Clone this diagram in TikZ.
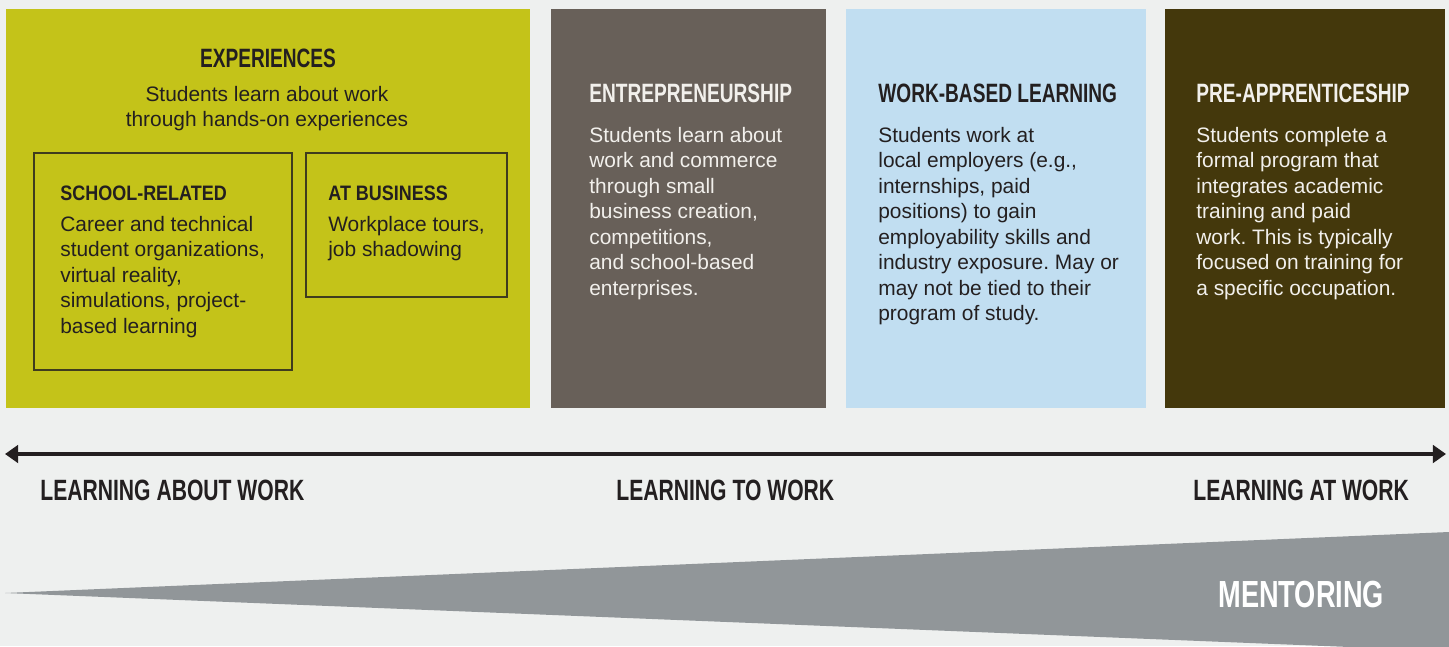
\documentclass[tikz,border=0pt]{standalone}
\usepackage{fontspec}
\setmainfont{Liberation Sans}
\newfontfamily\headfont[FakeStretch=0.72]{Liberation Sans}
\newfontfamily\subfont[FakeStretch=0.86]{Liberation Sans}
\usetikzlibrary{positioning, arrows.meta}
\definecolor{bgpaper}{HTML}{EEF0EF}
\definecolor{expolive}{HTML}{C4C319}
\definecolor{entbrown}{HTML}{686059}
\definecolor{wblblue}{HTML}{C1DEF1}
\definecolor{predark}{HTML}{44380C}
\definecolor{inkdark}{HTML}{231F20}
\definecolor{mentorgrey}{HTML}{919699}
\definecolor{lighttext}{HTML}{F2F0EC}
\definecolor{boxline}{HTML}{3F3C1E}
\frenchspacing

\begin{document}
\begin{tikzpicture}[x=0.02cm, y=-0.02cm,
  head/.style={inner sep=0, anchor=base west, font=\headfont\bfseries\fontsize{15.1}{18}\selectfont},
  subhead/.style={inner sep=0, anchor=base west, font=\subfont\bfseries\fontsize{11.9}{14.5}\selectfont},
  body/.style={inner sep=0, anchor=base west, align=left, font=\fontsize{11.9}{14.5}\selectfont},
  scale label/.style={inner sep=0, anchor=base west, text=inkdark, font=\headfont\bfseries\fontsize{16.7}{20}\selectfont}]
 \useasboundingbox (0, 0) rectangle (1449, 646);
 \fill[bgpaper] (0, 0) rectangle (1449, 646);
 % the four kinds of work-based experience
 \fill[expolive] (6, 9) rectangle (530, 408);
 \fill[entbrown] (551, 9) rectangle (826, 408);
 \fill[wblblue] (846, 9) rectangle (1146, 408);
 \fill[predark] (1165, 9) rectangle (1445, 408);
 \draw[boxline, line width=0.7pt] (34, 153) rectangle (292, 370);
 \draw[boxline, line width=0.7pt] (306, 153) rectangle (507, 297);
 % multi-line texts sit on the baseline of their last line
 \node[head, anchor=base, text=inkdark] (exphead) at (268, 67) {EXPERIENCES};
 \node[body, anchor=base, align=center, text=inkdark] (exptext) at (267, 126.5) {Students learn about work\\through hands-on experiences};
 \node[subhead, text=inkdark] (schoolhead) at (60, 200) {SCHOOL-RELATED};
 \node[body, text=inkdark] (schooltext) at (60, 333) {Career and technical\\student organizations,\\virtual reality,\\simulations, project-\\based learning};
 \node[subhead, text=inkdark] (bizhead) at (328, 200) {AT BUSINESS};
 \node[body, text=inkdark] (biztext) at (328, 256.5) {Workplace tours,\\job shadowing};
 \node[head, text=lighttext] (enthead) at (589, 102) {ENTREPRENEURSHIP};
 \node[body, text=lighttext] (enttext) at (589, 295) {Students learn about\\work and commerce\\through small\\business creation,\\competitions,\\and school-based\\enterprises.};
 \node[head, text=inkdark] (wblhead) at (878, 102) {WORK-BASED LEARNING};
 \node[body, text=inkdark] (wbltext) at (878, 320.5) {Students work at\\local employers (e.g.,\\internships, paid\\positions) to gain\\employability skills and\\industry exposure. May or\\may not be tied to their\\program of study.};
 \node[head, text=lighttext] (prehead) at (1196, 102) {PRE-APPRENTICESHIP};
 \node[body, text=lighttext] (pretext) at (1196, 295) {Students complete a\\formal program that\\integrates academic\\training and paid\\work. This is typically\\focused on training for\\a specific occupation.};
 % the scale below
 \coordinate (scaleleft) at (5, 454);
 \coordinate (scaleright) at (1446, 454);
 \draw[inkdark, line width=2.3pt, {Triangle[length=7.5pt, width=10pt]}-{Triangle[length=7.5pt, width=10pt]}] (scaleleft) -- (scaleright);
 \node[scale label] (aboutwork) at (40, 500) {LEARNING ABOUT WORK};
 \node[scale label] (towork) at (616, 500) {LEARNING TO WORK};
 \node[scale label] (atwork) at (1193, 500) {LEARNING AT WORK};
 \begin{scope}
  \clip (0, 0) rectangle (1449, 646);
  \fill[mentorgrey] (5, 593) -- (1449, 532) -- (1449, 651) -- cycle;
 \end{scope}
 \node[inner sep=0, anchor=base west, text=white, font=\headfont\bfseries\fontsize{21.5}{25}\selectfont] (mentoring) at (1218, 607) {MENTORING};
\end{tikzpicture}
\end{document}
